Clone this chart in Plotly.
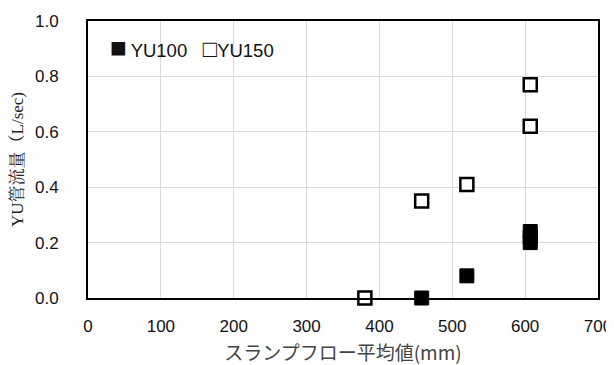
import plotly.graph_objects as go

yu100_x = [458, 520, 607, 607, 607]
yu100_y = [0.0, 0.08, 0.20, 0.22, 0.24]
yu150_x = [380, 458, 520, 607, 607]
yu150_y = [0.0, 0.35, 0.41, 0.62, 0.77]

x_ticks = [0, 100, 200, 300, 400, 500, 600, 700]
y_ticks = [0.0, 0.2, 0.4, 0.6, 0.8, 1.0]

fig = go.Figure()
fig.add_trace(go.Scatter(
    x=yu100_x, y=yu100_y, mode="markers", name="YU100",
    marker=dict(symbol="square", size=14, color="black", line=dict(color="black", width=1)),
    cliponaxis=False,
))
fig.add_trace(go.Scatter(
    x=yu150_x, y=yu150_y, mode="markers", name="YU150",
    marker=dict(symbol="square", size=13, color="white", line=dict(color="black", width=2.5)),
    cliponaxis=False,
))

tickfont = dict(family="Liberation Sans, Arial", size=17, color="#111")
fig.update_layout(
    width=606, height=357,
    margin=dict(l=80, r=16, t=13, b=67),
    paper_bgcolor="white", plot_bgcolor="white",
    showlegend=False,
    xaxis=dict(range=[0, 700], tickvals=x_ticks, ticktext=[str(v) for v in x_ticks],
               showgrid=True, gridcolor="#d9d9d9", gridwidth=1, automargin=False,
               showline=True, linecolor="black", linewidth=2, mirror=True,
               ticks="", ticklabelstandoff=12, tickfont=tickfont, zeroline=False,
               title=dict(text="スランプフロー平均値(mm)",
                          font=dict(family="Noto Sans CJK JP", size=19, color="#444"),
                          standoff=13)),
    yaxis=dict(range=[0, 1.0], tickvals=y_ticks, ticktext=[f"{v:.1f}" for v in y_ticks],
               showgrid=True, gridcolor="#d9d9d9", gridwidth=1, automargin=False,
               showline=True, linecolor="black", linewidth=2, mirror=True,
               ticks="", ticklabelstandoff=24, tickfont=tickfont, zeroline=False,
               title=dict(text="YU管流量（L/sec)",
                          font=dict(family="Liberation Serif, Noto Serif CJK JP", size=17, color="#222"),
                          standoff=8)),
    annotations=[dict(xref="paper", yref="paper", x=0.04, y=0.905, xanchor="left", yanchor="middle",
                      text="<span style='font-size:28px'>■</span>&#8201;YU100&nbsp;&nbsp;&nbsp;<span style='font-size:24px'>□</span>YU150",
                      showarrow=False,
                      font=dict(family="Liberation Sans, Arial", size=18.5, color="#111"))],
)
fig.write_html("out.html")
